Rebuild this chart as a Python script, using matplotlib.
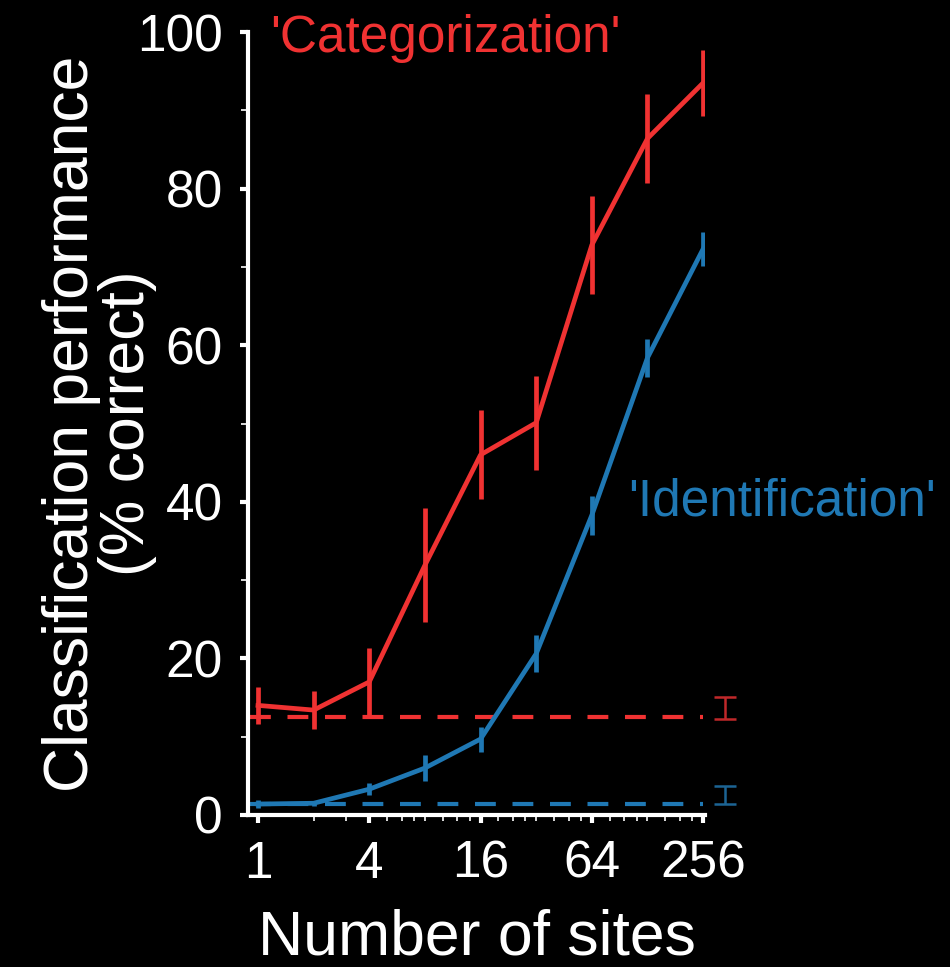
import matplotlib
matplotlib.use("Agg")
import matplotlib.pyplot as plt
import matplotlib.ticker as mticker
import numpy as np

# ---- data ----
n_sites = [1, 2, 4, 8, 16, 32, 64, 128, 256]
cat_mean = [14.0, 13.4, 17.0, 31.9, 46.0, 50.1, 72.8, 86.4, 93.5]
cat_err = [2.4, 2.4, 4.3, 7.3, 5.7, 6.0, 6.3, 5.7, 4.2]
id_mean = [1.4, 1.5, 3.3, 6.0, 9.7, 20.6, 38.3, 58.4, 72.3]
id_err = [0.5, 0.3, 0.8, 1.6, 1.6, 2.4, 2.5, 2.4, 2.2]
cat_chance = 12.5
id_chance = 1.4
cat_chance_range = [12.3, 15.1]
id_chance_range = [1.4, 3.7]
chance_bar_x = 337
xticks = [1, 4, 16, 64, 256]
xtick_labels = ["1", "4", "16", "64", "256"]
xminor = [2, 3, 5, 6, 7, 8, 10, 12, 14, 20, 24, 28, 32, 40, 48, 56,
          80, 96, 112, 128, 160, 192, 224]
yticks = [0, 20, 40, 60, 80, 100]
yminor = [10, 30, 50, 70, 90]

RED = "#f03232"
BLUE = "#1f78b4"
DRED = "#c0282a"
DBLUE = "#1c6494"

plt.rcParams['font.family'] = ['Liberation Sans', 'DejaVu Sans']

fig = plt.figure(figsize=(9.5, 9.67), dpi=100, facecolor="black")
ax = fig.add_axes([248/950, 1-815/967, (705-248)/950, (815-32)/967])
ax.set_facecolor("black")

ax.set_xscale("log", base=2)
ax.set_xlim(0.883, 262)
ax.set_ylim(0, 100)

ax.plot([0.9, 256], [cat_chance, cat_chance], color=RED, lw=3, ls=(0, (5, 4)), zorder=2)
ax.plot([0.9, 256], [id_chance, id_chance], color=BLUE, lw=3, ls=(0, (5, 4)), zorder=2)

ax.errorbar(n_sites, cat_mean, yerr=cat_err, color=RED, lw=3.4, elinewidth=3.4,
            capsize=0, zorder=3)
ax.errorbar(n_sites, id_mean, yerr=id_err, color=BLUE, lw=3.4, elinewidth=3.4,
            capsize=0, zorder=3)

# chance distribution bars
for rng, c in [(cat_chance_range, DRED), (id_chance_range, DBLUE)]:
    m = (rng[0] + rng[1]) / 2
    h = (rng[1] - rng[0]) / 2
    ax.errorbar([chance_bar_x], [m], yerr=[h], color=c, elinewidth=1.8,
                capsize=8, capthick=1.8, clip_on=False, zorder=3)

for s in ["top", "right"]:
    ax.spines[s].set_visible(False)
for s in ["left", "bottom"]:
    ax.spines[s].set_color("white")
    ax.spines[s].set_linewidth(3)

ax.set_xticks(xticks)
ax.set_xticklabels(xtick_labels)
ax.xaxis.set_minor_locator(mticker.FixedLocator(xminor))
ax.xaxis.set_minor_formatter(mticker.NullFormatter())
ax.set_yticks(yticks)
ax.yaxis.set_minor_locator(mticker.FixedLocator(yminor))

ax.tick_params(which="major", colors="white", width=3, length=6, labelsize=37, pad=12)
ax.tick_params(which="minor", colors="white", width=1.2, length=5)
ax.tick_params(axis="x", which="minor", length=4)

ax.set_xlabel("Number of sites", color="white", fontsize=45, labelpad=14)
ax.set_ylabel("Classification performance\n(% correct)", color="white",
              fontsize=45, linespacing=0.92, labelpad=-14)

ax.text(0.048, 0.975, "'Categorization'", color=RED, fontsize=37,
        transform=ax.transAxes, va="baseline", ha="left")
ax.text(0.832, 0.383, "'Identification'", color=BLUE, fontsize=37,
        transform=ax.transAxes, va="baseline", ha="left")

fig.savefig("out.png", dpi=100, facecolor="black")
